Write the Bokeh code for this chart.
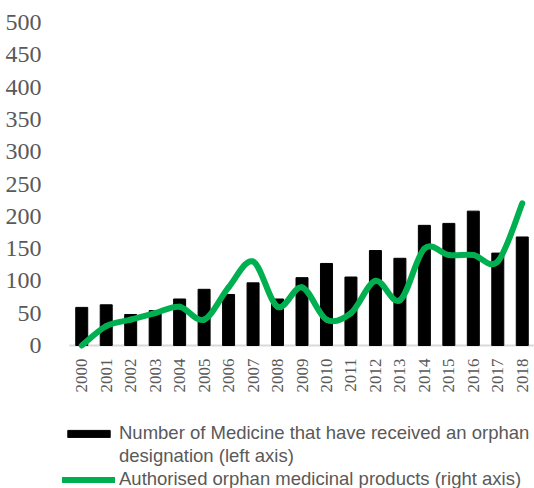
import math
from bokeh.plotting import figure
from bokeh.models import Range1d, FixedTicker, Legend, LegendItem, ColumnDataSource
from bokeh.embed import file_html
from bokeh.resources import INLINE

years = [str(y) for y in range(2000, 2019)]
designations = [59, 63, 48, 54, 72, 87, 79, 97, 72, 105, 127, 106, 147, 135, 186, 189, 208, 143, 168]
authorised = [0, 3, 4, 5, 6, 4, 9, 13, 6, 9, 4, 5, 10, 7, 15, 14, 14, 13, 22]
left_ticks = [0, 50, 100, 150, 200, 250, 300, 350, 400, 450, 500]

GRAY = "#595959"
GREEN = "#00B050"

xs = list(range(len(years)))
n = len(years)

# layout geometry (pixels)
W, H = 534, 488
frame_left, frame_top = 62, 22
zero_px = 345                     # pixel row of value 0
cat_px = 465 / n                  # pixels per category
unit_px = (zero_px - frame_top) / 500.0
y_start = -(H - zero_px) / unit_px
x_start = -0.5 - (69 - frame_left) / cat_px

p = figure(
    width=W, height=H,
    x_range=Range1d(x_start, n - 0.5),
    y_range=Range1d(y_start, 500),
    output_backend="svg", toolbar_location=None,
    x_axis_location=None,
    min_border_top=frame_top, min_border_left=frame_left, min_border_right=0, min_border_bottom=0,
)
p.extra_y_ranges = {"right": Range1d(y_start / 10.0, 50)}
p.outline_line_color = None
p.xgrid.visible = False
p.ygrid.visible = False
p.background_fill_color = "white"
p.border_fill_color = "white"

# baseline (category axis line)
p.segment(x0=[xs[0] - 0.5], x1=[xs[-1] + 0.5], y0=[0], y1=[0], line_color="#D9D9D9", line_width=2)

bars = p.vbar(x=xs, top=designations, width=0.49, color="black")

# Smoothed line (Catmull-Rom converted to cubic Bezier segments)
x0, y0, x1, y1, cx0, cy0, cx1, cy1 = [], [], [], [], [], [], [], []
for i in range(n - 1):
    im1 = max(i - 1, 0)
    ip2 = min(i + 2, n - 1)
    x0.append(xs[i]); y0.append(authorised[i])
    x1.append(xs[i + 1]); y1.append(authorised[i + 1])
    cx0.append(xs[i] + (xs[i + 1] - xs[im1]) / 6)
    cy0.append(authorised[i] + (authorised[i + 1] - authorised[im1]) / 6)
    cx1.append(xs[i + 1] - (xs[ip2] - xs[i]) / 6)
    cy1.append(authorised[i + 1] - (authorised[ip2] - authorised[i]) / 6)
src = ColumnDataSource(dict(x0=x0, y0=y0, x1=x1, y1=y1, cx0=cx0, cy0=cy0, cx1=cx1, cy1=cy1))
curve = p.bezier(x0="x0", y0="y0", x1="x1", y1="y1", cx0="cx0", cy0="cy0", cx1="cx1", cy1="cy1",
                 source=src, y_range_name="right", line_color=GREEN, line_width=6, line_cap="round")

dummy = p.scatter(x=[], y=[], alpha=0)

# category labels, rotated, under the baseline
p.text(x=xs, y=[0] * n, text=years, angle=math.pi / 2, text_align="right", text_baseline="middle",
       y_offset=13, text_font="Liberation Sans", text_font_size="17px", text_color=GRAY)

ya = p.yaxis[0]
ya.ticker = FixedTicker(ticks=left_ticks)
ya.axis_line_color = None
ya.major_tick_line_color = None
ya.minor_tick_line_color = None
ya.major_label_text_font = "Liberation Serif"
ya.major_label_text_font_size = "24px"
ya.major_label_text_color = GRAY
ya.major_label_standoff = 15

legend = Legend(
    items=[
        LegendItem(label="Number of Medicine that have received an orphan", renderers=[bars]),
        LegendItem(label="designation (left axis)", renderers=[dummy]),
        LegendItem(label="Authorised orphan medicinal products (right axis)", renderers=[curve]),
    ],
    location=(0, -2),
    orientation="vertical",
    background_fill_alpha=0,
    border_line_color=None,
    padding=0, margin=0, spacing=1,
    glyph_width=53, glyph_height=9, label_height=18,
    label_standoff=4,
    label_text_font="Liberation Sans",
    label_text_font_size="18.5px",
    label_text_color=GRAY,
)
p.add_layout(legend, "center")

open("out.html", "w").write(file_html(p, INLINE))
